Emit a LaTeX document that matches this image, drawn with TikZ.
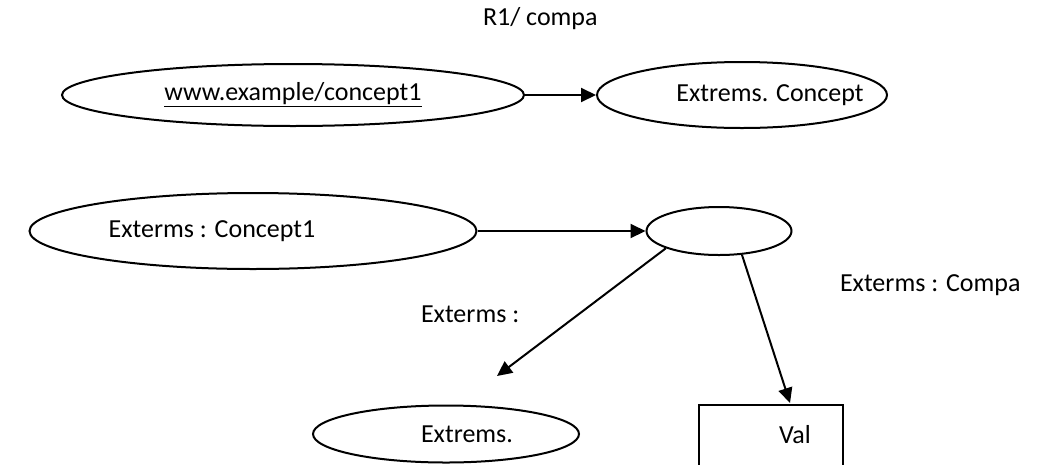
\documentclass[tikz,border=0pt]{standalone}
\usepackage{fontspec}
\setmainfont{Carlito}
\usetikzlibrary{shapes.geometric,arrows.meta}
\begin{document}
\begin{tikzpicture}[x=1pt,y=-1pt,line width=2pt,>={Triangle[length=15pt,width=14pt]},
	font=\fontsize{26}{31}\selectfont,
	oval/.style={ellipse, draw, inner sep=0pt},
	word/.style={inner sep=0pt, anchor=base west}]
	\useasboundingbox (0,0) rectangle (1046,464);
	\node (R1) at (482, 25)	[word]	{R1/ compa};
	\node (E1) at (293, 95)	[oval, minimum width=462pt, minimum height=62pt]	{\underline{www.example/concept1}};
	\node (E2) at (742, 95)	[oval, minimum width=290pt, minimum height=66pt, label={[xshift=28pt]center:Extrems. Concept}]	{};
	\node (E3) at (253, 231)	[oval, minimum width=447pt, minimum height=76pt, label={[xshift=-41pt]center:Exterms : Concept1}]	{};
	\node (E4) at (719, 231)	[oval, minimum width=145pt, minimum height=48pt]	{};
	\node (E5) at (446, 434)	[oval, minimum width=266pt, minimum height=57pt, label={[xshift=21pt]center:Extrems.}]	{};
	\node (V) at (771, 440)	[draw, inner sep=0pt, minimum width=144pt, minimum height=70pt, label={[xshift=24pt,yshift=5pt]center:Val}]	{};
	\node (L1) at (420, 322)	[word]	{Exterms :};
	\node (L2) at (839, 291)	[word]	{Exterms : Compa};
	\coordinate (T1) at (497, 376);
	\coordinate (T2) at (790, 403);
	\draw[->] (E1) -- (E2);
	\draw[->] (E3) -- (E4);
	\draw[->] (E4.198) -- (T1);
	\draw[->] (E4.314) -- (T2);
\end{tikzpicture}
\end{document}
